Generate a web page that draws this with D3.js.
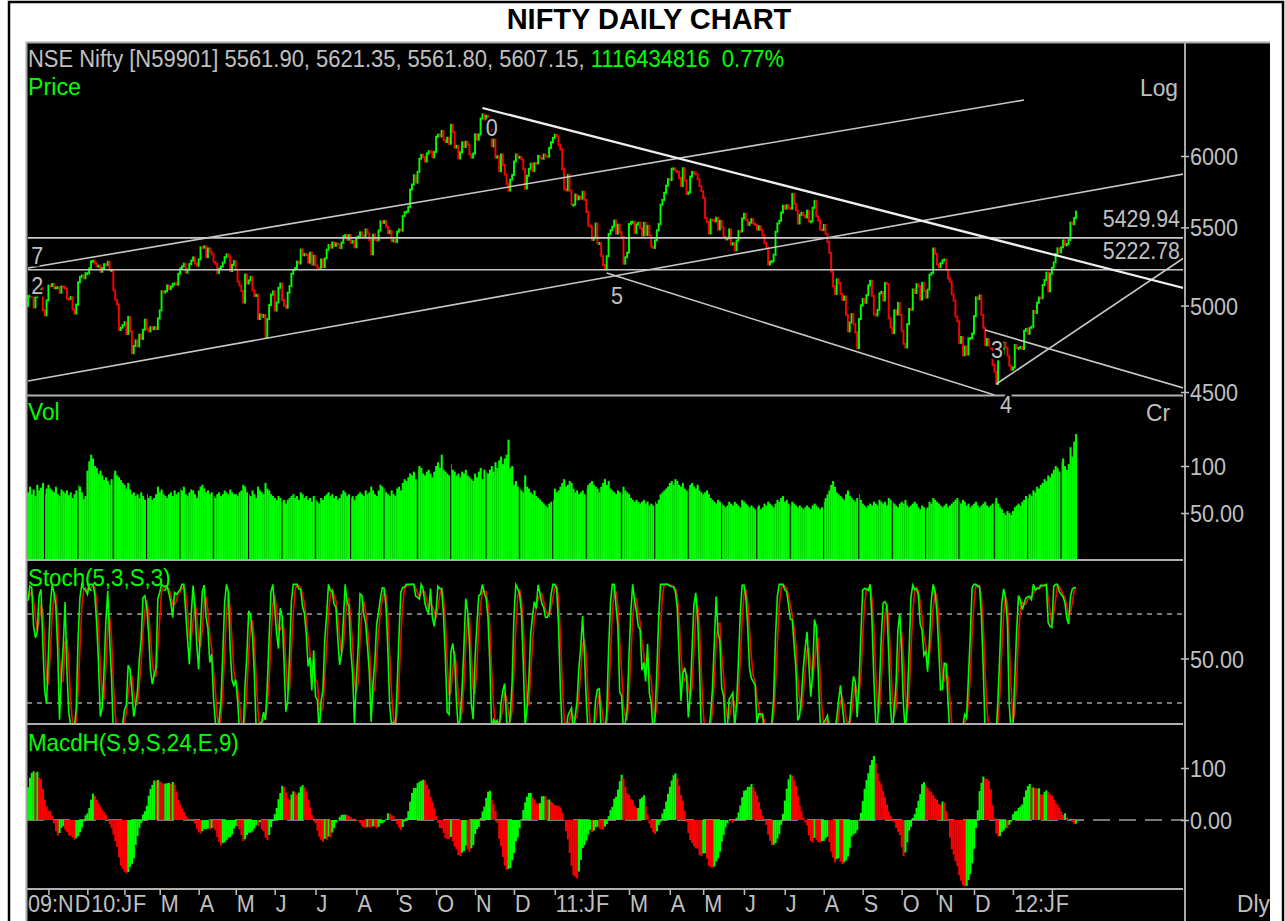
<!DOCTYPE html>
<html>
<head>
<meta charset="utf-8">
<script src="https://cdn.jsdelivr.net/npm/d3@7"></script>
<style>
  body { margin: 0; background: #fff; }
  svg { display: block; }
  text { font-family: "Liberation Sans", Arial, sans-serif; white-space: pre; }
</style>
</head>
<body>
<div class="chart"></div>
<script>
// daily closes, one array per month (Nov 09 starts mid-month)
var nov09 = [5058,5062,5053,4989,5052,5103,5091,5108,4971,4941,5032];
var dec09 = [5123,5122,5133,5108,5112,5113,5079,5118,5117,5105,5042,5041,5052,4976,4952,5006,5144,5178,5187,5169,5201];
var jan10 = [5201,5232,5277,5281,5263,5245,5249,5210,5233,5259,5252,5274,5221,5221,5094,5036,5007,4853,4867,4882];
var feb10 = [4899,4830,4931,4845,4718,4760,4792,4757,4826,4801,4855,4914,4858,4845,4870,4858,4870,4859,4922];
var mar10 = [4970,5088,5080,5088,5124,5101,5117,5134,5137,5129,5198,5231,5245,5262,5205,5225,5260,5282,5302,5262,5249];
var apr10 = [5290,5368,5366,5374,5304,5361,5339,5323,5274,5262,5203,5230,5244,5269,5304,5322,5308,5215,5254,5278];
var may10 = [5223,5148,5124,5090,5018,5193,5136,5156,5178,5093,5059,5066,4919,4947,4932,4943,4807,4918,5003,5067,5087];
var jun10 = [4970,5019,5110,5136,5034,5000,4987,5079,5120,5197,5223,5233,5275,5263,5353,5316,5324,5320,5269,5333,5256,5313];
var jul10 = [5251,5236,5235,5289,5241,5296,5352,5383,5366,5400,5378,5393,5387,5363,5398,5441,5449,5418,5448,5398,5409,5368];
var aug10 = [5432,5439,5467,5447,5440,5486,5460,5416,5323,5452,5418,5414,5479,5540,5530,5543,5505,5462,5477,5408,5415,5402];
var sep10 = [5471,5486,5479,5576,5603,5607,5640,5760,5795,5861,5808,5885,5980,6009,5991,5960,6018,6035,6029,5991,6030];
var oct10 = [6143,6159,6145,6186,6120,6103,6135,6090,6233,6177,6062,6075,5982,6027,6101,6066,6105,6082,6012,5988,6018];
var nov10 = [6160,6120,6160,6281,6312,6273,6301,6275,6194,6071,6121,5988,5998,5890,6011,5934,5865,5799,5752,5830,5863];
var dec10 = [5960,6011,5992,5993,5976,5903,5767,5857,5907,5944,5892,5948,5947,6000,5985,5980,6011,5998,5996,6060,6101,6134];
var jan11 = [6157,6146,6079,6048,5904,5762,5754,5863,5751,5654,5654,5724,5691,5711,5696,5743,5687,5604,5512,5505];
var feb11 = [5417,5432,5526,5395,5396,5312,5253,5225,5310,5456,5481,5505,5546,5458,5518,5469,5437,5262,5303,5333];
var mar11 = [5522,5536,5538,5463,5520,5531,5494,5446,5531,5449,5511,5446,5373,5364,5413,5480,5522,5654,5687,5737,5787,5833];
var apr11 = [5826,5908,5910,5891,5885,5842,5785,5911,5824,5729,5740,5851,5884,5874,5868,5833,5785,5749];
var may11 = [5701,5565,5537,5459,5552,5551,5541,5565,5486,5544,5499,5438,5420,5428,5486,5386,5395,5348,5412,5476,5473,5560];
var jun11 = [5592,5550,5516,5532,5556,5526,5516,5485,5508,5482,5447,5396,5366,5257,5275,5278,5320,5471,5526,5545,5600,5647];
var jul11 = [5627,5650,5632,5626,5728,5660,5616,5526,5585,5599,5581,5567,5613,5541,5541,5633,5680,5574,5546,5487,5482];
var aug11 = [5516,5456,5404,5331,5211,5118,5072,5162,5138,5072,5035,5056,4944,4845,4898,4948,4888,4839,4747,4919,5001];
var sep11 = [5040,5017,5064,5125,5153,5059,4947,4940,4974,5075,5084,5031,5140,5133,4923,4868,4835,4971,4946,5015,4943];
var oct11 = [4849,4772,4751,4888,4979,4975,5099,5077,5132,5118,5037,5140,5091,5049,5098,5192,5202,5360,5326];
var nov11 = [5258,5239,5265,5284,5289,5221,5168,5148,5069,5030,4934,4905,4778,4812,4706,4756,4710,4805,4806,4832];
var dec11 = [4936,5050,5039,5062,4944,4866,4764,4800,4763,4746,4651,4613,4544,4693,4733,4714,4779,4750,4705,4647,4624];
var jan12 = [4636,4765,4749,4749,4754,4742,4849,4860,4831,4866,4873,4967,4955,5018,5049,5046,5127,5158,5205,5087,5199];
var feb12 = [5236,5270,5325,5361,5335,5368,5413,5381,5390,5417,5532,5521,5564,5607];

// closes before the first bar, only used to warm up the indicators
var warmup = [4846,4958,5052,5020,5052,5021,4972,4986,4958,5006,5084,5083,4989,5007,4956,5003,4945,5052,5054,5108,5142,
              5090,5095,5066,4950,4997,4970,4847,4845,4750,4711,4564,4710,4765,4796,4898,4881,5003,4952,4998];

// daily volume (Cr), same month layout
var vNov09 = [72,78,70,75,68,80,74,77,82,70,76];
var vDec09 = [80,76,74,72,78,70,68,75,73,71,74,69,72,66,70,74,80,78,72,65,68];
var vJan10 = [95,105,112,108,100,98,92,95,90,85,88,84,80,86,92,95,90,88,85,82];
var vFeb10 = [80,76,82,75,70,72,68,70,66,72,68,64,70,66,68,64,66,70,78];
var vMar10 = [72,75,70,68,66,70,72,68,74,70,72,76,74,78,70,68,72,75,74,70,66];
var vApr10 = [74,78,80,76,72,74,70,72,68,66,70,72,68,70,74,72,70,75,72,70];
var vMay10 = [70,68,72,74,80,78,72,70,68,74,70,66,78,74,72,70,82,76,74,70,68];
var vJun10 = [66,64,68,66,62,64,60,64,66,68,70,66,68,64,72,70,66,68,64,66,62,68];
var vJul10 = [64,62,60,66,64,68,70,72,68,70,66,68,64,66,70,74,72,68,70,66,68,64];
var vAug10 = [68,70,72,70,68,74,70,72,78,74,70,68,74,80,78,76,72,70,68,74,70,68];
var vSep10 = [76,78,74,82,86,84,88,92,90,94,86,96,100,98,92,90,94,96,92,88,94];
var vOct10 = [100,104,98,112,96,94,92,90,102,96,94,90,92,88,94,92,96,90,88,86,84];
var vNov10 = [92,88,94,98,86,96,94,92,96,100,94,104,98,106,110,102,108,112,128,98,100];
var vDec10 = [80,84,78,76,74,72,90,78,76,72,70,74,68,66,64,62,60,58,56,60,62,64];
var vJan11 = [76,72,74,78,82,86,78,80,84,82,76,72,74,70,72,74,70,76,80,82];
var vFeb11 = [84,80,78,76,72,78,82,86,80,84,76,74,72,70,74,72,70,78,74,72];
var vMar11 = [70,66,64,62,64,62,60,62,64,60,62,58,60,58,62,60,64,70,72,74,76,78];
var vApr11 = [82,84,80,86,84,80,78,82,76,74,76,80,82,78,76,80,74,72];
var vMay11 = [70,72,74,70,66,64,62,60,64,62,60,58,56,58,62,60,58,62,60,58,56,64];
var vJun11 = [62,60,58,56,58,56,54,56,58,54,56,60,58,62,60,58,56,60,64,62,66,68];
var vJul11 = [62,64,60,58,62,60,58,56,58,56,54,56,58,56,54,58,60,58,56,54,56];
var vAug11 = [62,66,70,74,80,84,78,72,70,68,66,64,70,74,68,66,64,62,66,70,64];
var vSep11 = [60,58,56,58,60,58,62,60,58,64,62,60,62,58,66,64,62,60,58,56,60];
var vOct11 = [62,60,64,58,56,58,60,62,60,56,54,58,56,54,56,62,60,66,64];
var vNov11 = [62,60,58,56,58,60,56,58,60,62,64,66,62,60,64,62,58,60,56,58];
var vDec11 = [60,62,58,56,58,60,62,58,56,58,60,62,66,60,56,54,50,48,52,50,48];
var vJan12 = [52,56,58,60,58,62,64,68,66,70,68,74,72,78,76,80,82,86,84,90,88];
var vFeb12 = [92,96,100,98,94,104,108,100,96,102,120,110,126,134];

var monthLabels = ["09:N","D","10:J","F","M","A","M","J","J","A","S","O","N","D",
                   "11:J","F","M","A","M","J","J","A","S","O","N","D","12:J","F"];

var priceTicks = [4500, 5000, 5500, 6000];
var volTicks = [50, 100];
var stochLevels = [20, 80];
var macdTicks = [0, 100];

// hand drawn studies: [day index, price]
var trendLines = [
  [[0, 5234], [537, 6424]],
  [[0, 4561], [623, 5870]],
  [[312, 5202], [521, 4484]],
  [[522, 4544], [623, 5298]],
  [[516, 4853], [623, 4522]],
  [[0, 5429.94], [623, 5429.94]],
  [[0, 5222.78], [623, 5222.78]]
];
var mainLine = [[245, 6362], [623, 5108]];
var waveLabels = [["0", 250, 6209], ["5", 317.5, 5058], ["7", 5, 5311], ["2", 5, 5121], ["3", 522.4, 4736], ["4", 527.2, 4429]];

var months = [nov09,dec09,jan10,feb10,mar10,apr10,may10,jun10,jul10,aug10,sep10,oct10,nov10,dec10,
              jan11,feb11,mar11,apr11,may11,jun11,jul11,aug11,sep11,oct11,nov11,dec11,jan12,feb12];
var volMonths = [vNov09,vDec09,vJan10,vFeb10,vMar10,vApr10,vMay10,vJun10,vJul10,vAug10,vSep10,vOct10,vNov10,vDec10,
                 vJan11,vFeb11,vMar11,vApr11,vMay11,vJun11,vJul11,vAug11,vSep11,vOct11,vNov11,vDec11,vJan12,vFeb12];

var closes = [].concat.apply([], months);
var volumes = [].concat.apply([], volMonths);
var monthStart = [];
var acc = 0;
months.forEach(function(m) { monthStart.push(acc); acc += m.length; });
var n = closes.length;

var all = warmup.concat(closes);
var off = warmup.length;
var opens = closes.map(function(c, i) { return all[off + i - 1]; });

// Stoch(5,3,S,3) on closes
var ll = [], hh = [];
all.forEach(function(c, i) {
  var w = all.slice(Math.max(0, i - 4), i + 1);
  ll.push(d3.min(w)); hh.push(d3.max(w));
});
var kAll = all.map(function(c, i) {
  if (i < 6) return null;
  var a = 0, b = 0;
  for (var j = i - 2; j <= i; j++) { a += all[j] - ll[j]; b += hh[j] - ll[j]; }
  return b === 0 ? 50 : 100 * a / b;
});
var dAll = kAll.map(function(k, i) {
  if (i < 8) return null;
  return (kAll[i] + kAll[i - 1] + kAll[i - 2]) / 3;
});

// MacdH(S,9,S,24,E,9)
function sma(a, p, i) { return d3.mean(a.slice(i - p + 1, i + 1)); }
var macd = all.map(function(c, i) { return i < 23 ? null : sma(all, 9, i) - sma(all, 24, i); });
var sig = [];
macd.forEach(function(m, i) {
  if (m === null) { sig.push(null); return; }
  var prev = sig[i - 1];
  sig.push(prev === null || prev === undefined ? m : prev + 0.2 * (m - prev));
});
var histAll = macd.map(function(m, i) { return m === null ? null : m - sig[i]; });

var stochK = kAll.slice(off), stochD = dAll.slice(off), hist = histAll.slice(off);

var W = 1285, H = 921;
var left = 27, right = 1183;
var gray = "#c0c0c0", green = "#00ff00", red = "#ff0000";

var svg = d3.select(".chart").append("svg")
  .attr("width", W).attr("height", H);

// frame
svg.append("rect").attr("x", 9).attr("y", 2).attr("width", 1274).attr("height", 930)
  .attr("fill", "#fff").attr("stroke", "#000").attr("stroke-width", 2.5);
svg.append("rect").attr("x", 26).attr("y", 42).attr("width", 1244).attr("height", 890).attr("fill", "#000");
svg.append("path").attr("d", "M26.5,921V42.5H1270").attr("fill", "none").attr("stroke", "#a8a8a8").attr("stroke-width", 2);

svg.append("text")
  .attr("x", 649).attr("y", 29)
  .attr("text-anchor", "middle")
  .style("font-size", "29px").style("font-weight", "bold")
  .attr("fill", "#000")
  .text("NIFTY DAILY CHART");

var x = d3.scaleLinear().domain([0, n - 1]).range([28, 1076]);
var step = x(1) - x(0);
var yP = d3.scaleLog().domain([4500, 6000]).range([392, 156]);
var yV = d3.scaleLinear().domain([0, 100]).range([560, 466]);
var yS = d3.scaleLinear().domain([20, 80]).range([703, 614]);
var yM = d3.scaleLinear().domain([0, 100]).range([820, 768]);

function clip(id, y0, y1) {
  svg.append("clipPath").attr("id", id).append("rect")
    .attr("x", left).attr("y", y0).attr("width", right - left).attr("height", y1 - y0);
}
clip("cp", 43, 395); clip("cv", 397, 559); clip("cs", 561, 723); clip("cm", 725, 888);

function txt(g, px, py, s, fill, anchor, sx) {
  return g.append("text")
    .attr("transform", "translate(" + px + "," + py + ") scale(" + (sx || 0.92) + ",1)")
    .attr("text-anchor", anchor || "start")
    .style("font-size", "24px")
    .attr("fill", fill)
    .text(s);
}

// panel separators
[395.5, 560, 724, 889].forEach(function(yy) {
  svg.append("line").attr("x1", left).attr("x2", right).attr("y1", yy).attr("y2", yy)
    .attr("stroke", "#b0b0b0").attr("stroke-width", 2);
});
svg.append("line").attr("x1", 1185).attr("x2", 1185).attr("y1", 42).attr("y2", 921)
  .attr("stroke", "#a8a8a8").attr("stroke-width", 2);

// ---- price panel
var gP = svg.append("g").attr("clip-path", "url(#cp)");
gP.selectAll(".candle")
  .data(closes)
  .enter()
  .append("rect")
  .attr("class", "candle")
  .attr("x", function(d, i) { return x(i) - 0.95; })
  .attr("width", 1.9)
  .attr("y", function(d, i) { return Math.min(yP(d), yP(opens[i])) - 1; })
  .attr("height", function(d, i) { return Math.max(3, Math.abs(yP(d) - yP(opens[i])) + 2); })
  .attr("fill", function(d, i) { return d >= opens[i] ? green : red; });

var line = d3.line().x(function(d) { return x(d[0]); }).y(function(d) { return yP(d[1]); });
gP.selectAll(".trend")
  .data(trendLines)
  .enter()
  .append("path")
  .attr("d", line)
  .attr("fill", "none")
  .attr("stroke", "#c8c8c8")
  .attr("stroke-width", 1.6);
gP.append("path").attr("d", line(mainLine))
  .attr("fill", "none").attr("stroke", "#eeeeee").attr("stroke-width", 2.2);

waveLabels.forEach(function(w) {
  txt(svg, x(w[1]), yP(w[2]) + 8, w[0], gray, "middle", 0.9)
    .attr("stroke", "#000").attr("stroke-width", 5).attr("paint-order", "stroke");
});

txt(svg, 1180, 227, "5429.94", gray, "end", 0.89);
txt(svg, 1180, 259, "5222.78", gray, "end", 0.89);

var head = svg.append("text")
  .attr("transform", "translate(28,67) scale(0.915,1)")
  .style("font-size", "24px");
head.append("tspan").attr("fill", gray).text("NSE Nifty [N59901] 5561.90, 5621.35, 5561.80, 5607.15, ");
head.append("tspan").attr("fill", green).text("1116434816  0.77%");

txt(svg, 28, 95, "Price", green, "start", 0.97);
txt(svg, 1178, 96, "Log", gray, "end", 0.95);

// ---- volume panel
// the source drew its bars on a coarser pixel grid, which leaves a thin
// black column roughly every 18 bars; mimic that rounding
var gridBars = 18.27, gridPhase = 0.53;
function gapBefore(i) {
  return i > 0 && Math.floor(i / gridBars + gridPhase) > Math.floor((i - 1) / gridBars + gridPhase);
}
var gV = svg.append("g").attr("clip-path", "url(#cv)");
gV.selectAll(".vol")
  .data(volumes)
  .enter()
  .append("rect")
  .attr("x", function(d, i) { return x(i) - step / 2 + (gapBefore(i) ? 1.3 : 0); })
  .attr("width", function(d, i) { return step + 0.2 - (gapBefore(i) ? 1.3 : 0); })
  .attr("y", function(d) { return yV(d); })
  .attr("height", function(d) { return yV(0) - yV(d); })
  .attr("fill", green);
txt(svg, 28, 420, "Vol", green, "start", 0.95);
txt(svg, 1170, 421, "Cr", gray, "end", 0.95);

// ---- stoch panel
var gS = svg.append("g").attr("clip-path", "url(#cs)");
stochLevels.forEach(function(v) {
  gS.append("line").attr("x1", left).attr("x2", right).attr("y1", yS(v)).attr("y2", yS(v))
    .attr("stroke", "#a0a0a0").attr("stroke-width", 1.5).attr("stroke-dasharray", "5,5");
});
var sLine = d3.line().defined(function(d) { return d !== null; })
  .x(function(d, i) { return x(i); }).y(function(d) { return yS(d); });
gS.append("path").attr("d", sLine(stochD)).attr("fill", "none").attr("stroke", red).attr("stroke-width", 1.6);
gS.append("path").attr("d", sLine(stochK)).attr("fill", "none").attr("stroke", green).attr("stroke-width", 1.6);
txt(svg, 28, 586, "Stoch(5,3,S,3)", green, "start", 0.93);

// ---- macd histogram panel
var gM = svg.append("g").attr("clip-path", "url(#cm)");
gM.append("line").attr("x1", left).attr("x2", right).attr("y1", yM(0)).attr("y2", yM(0))
  .attr("stroke", "#a0a0a0").attr("stroke-width", 1.5).attr("stroke-dasharray", "17,9");
gM.selectAll(".macd")
  .data(hist)
  .enter()
  .append("rect")
  .attr("x", function(d, i) { return x(i) - step / 2; })
  .attr("width", step + 0.2)
  .attr("y", function(d) { return Math.min(yM(d), yM(0)); })
  .attr("height", function(d) { return Math.abs(yM(d) - yM(0)); })
  .attr("fill", function(d, i) { return i > 0 && d < hist[i - 1] ? red : green; });
txt(svg, 28, 751, "MacdH(S,9,S,24,E,9)", green, "start", 0.93);

// ---- right axes
function rightAxis(scale, ticks, fmt) {
  var g = svg.append("g").attr("transform", "translate(1185,0)")
    .call(d3.axisRight(scale).tickValues(ticks).tickSize(4).tickFormat(fmt));
  g.select(".domain").remove();
  g.selectAll(".tick line").attr("x1", -4).attr("stroke", gray).attr("stroke-width", 1.5);
  g.selectAll(".tick text")
    .attr("x", 0).attr("dy", null).attr("y", 0)
    .attr("transform", "translate(5,8.5) scale(0.9,1)")
    .attr("fill", gray)
    .style("font-size", "24px")
    .style("font-family", '"Liberation Sans", Arial, sans-serif');
}
rightAxis(yP, priceTicks, d3.format("d"));
rightAxis(yV, volTicks, function(d) { return d === 100 ? "100" : "50.00"; });
rightAxis(yS, [50], function() { return "50.00"; });
rightAxis(yM, macdTicks, function(d) { return d === 0 ? "0.00" : "100"; });

// ---- month axis
var gX = svg.append("g").attr("transform", "translate(0,889)")
  .call(d3.axisBottom(x).tickValues(monthStart.slice(1)).tickSize(6).tickFormat(""));
gX.select(".domain").remove();
gX.selectAll(".tick line").attr("stroke", gray).attr("stroke-width", 1.5);

var lastEnd = 0;
monthStart.forEach(function(mi, k) {
  var tx = k === 0 ? left + 1 : x(mi) - step / 2 + 2;
  tx = Math.max(tx, lastEnd + 1);
  var t = txt(svg, tx, 912, monthLabels[k], gray, "start", 0.9);
  lastEnd = tx + t.node().getComputedTextLength() * 0.9;
});
txt(svg, 1270, 912, "Dly", gray, "end", 0.95);
</script>
</body>
</html>
